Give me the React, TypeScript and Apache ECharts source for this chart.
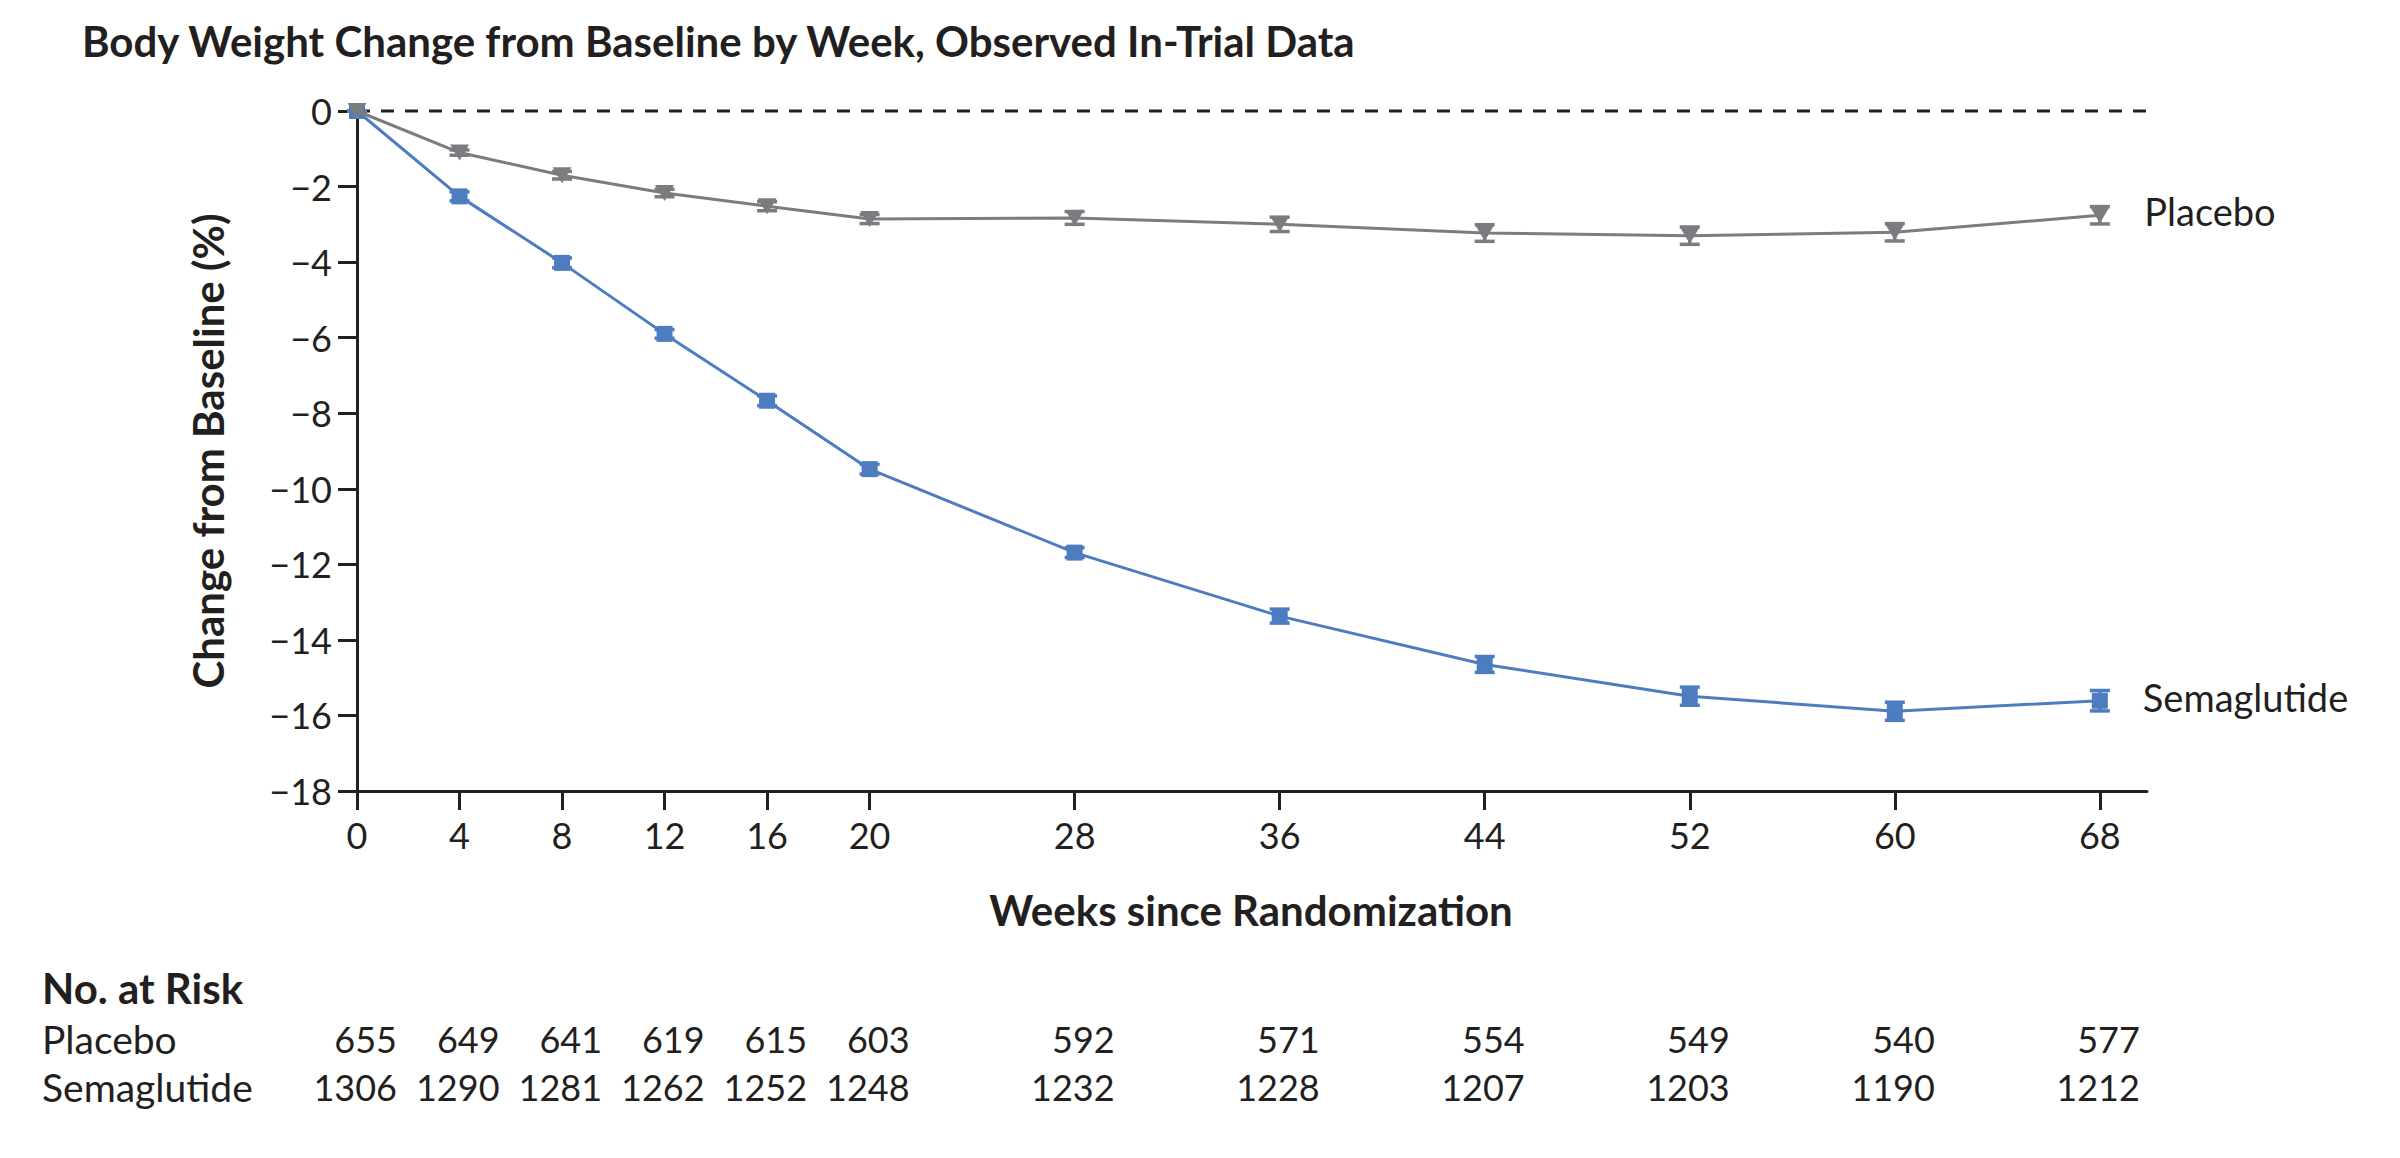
import React, { useEffect, useRef } from "react";
import * as echarts from "echarts";

const weeks = [0, 4, 8, 12, 16, 20, 28, 36, 44, 52, 60, 68];
const placebo = [0, -1.1, -1.7, -2.17, -2.52, -2.86, -2.83, -3.0, -3.23, -3.3, -3.21, -2.76];
const placeboErr = [0, 0.07, 0.1, 0.1, 0.12, 0.12, 0.17, 0.19, 0.22, 0.23, 0.23, 0.23];
const semaglutide = [0, -2.26, -4.02, -5.9, -7.67, -9.48, -11.69, -13.37, -14.65, -15.49, -15.89, -15.61];
const semaglutideErr = [0, 0.12, 0.13, 0.115, 0.13, 0.13, 0.13, 0.185, 0.21, 0.24, 0.24, 0.27];
const riskPlacebo = [655, 649, 641, 619, 615, 603, 592, 571, 554, 549, 540, 577];
const riskSemaglutide = [1306, 1290, 1281, 1262, 1252, 1248, 1232, 1228, 1207, 1203, 1190, 1212];
const yTicks = { min: -18, max: 0, interval: 2 };
const baselineSpan = [0, 70.4];

const BLUE = "#4d7cc1";
const GRAY = "#7a7c7f";
const INK = "#231f20";
const FONT = "Lato";

function errorSeries(name: string, vals: number[], errs: number[], color: string) {
  return {
    name: name + " CI",
    type: "custom",
    z: 2,
    silent: true,
    data: weeks.map((w, i) => [w, vals[i] - errs[i], vals[i] + errs[i]]),
    renderItem: (params: any, api: any) => {
      const x = api.value(0);
      const lo = api.coord([x, api.value(1)]);
      const hi = api.coord([x, api.value(2)]);
      const hw = 10;
      const style = { stroke: color, lineWidth: 3.5 };
      return {
        type: "group",
        children: [
          { type: "line", shape: { x1: lo[0], y1: lo[1], x2: hi[0], y2: hi[1] }, style },
          { type: "line", shape: { x1: lo[0] - hw, y1: lo[1], x2: lo[0] + hw, y2: lo[1] }, style },
          { type: "line", shape: { x1: hi[0] - hw, y1: hi[1], x2: hi[0] + hw, y2: hi[1] }, style },
        ],
      };
    },
  };
}

function lineData(vals: number[], label: string) {
  return weeks.map((w, i) => {
    if (i === weeks.length - 1) {
      return {
        value: [w, vals[i]],
        label: {
          show: true,
          position: "right",
          distance: 35,
          offset: [0, -4],
          formatter: label,
          fontFamily: FONT,
          fontSize: 38,
          color: INK,
        },
      };
    }
    return [w, vals[i]];
  });
}

export default function App() {
  const ref = useRef<HTMLDivElement>(null);
  useEffect(() => {
    if (!ref.current) return;
    const chart = echarts.init(ref.current, null, { renderer: "svg", width: 2400, height: 1158 });
    const axisLineStyle = { color: INK, width: 3 };
    const fmt = (v: number) => (v < 0 ? "\u2212" + Math.abs(v) : String(v));
    const option: any = {
      animation: false,
      backgroundColor: "#ffffff",
      textStyle: { fontFamily: FONT },
      grid: [
        { left: 357, top: 111, width: 1790, height: 680 },
        { left: 357, top: 1015, width: 1790, height: 96 },
      ],
      xAxis: [
        {
          type: "value",
          gridIndex: 0,
          min: 0,
          max: 69.84,
          axisLine: { show: true, onZero: false, lineStyle: axisLineStyle },
          axisTick: { show: true, length: 19, lineStyle: axisLineStyle, customValues: weeks },
          axisLabel: {
            show: true,
            customValues: weeks,
            fontFamily: FONT,
            fontSize: 36,
            color: INK,
            margin: 26,
          },
          splitLine: { show: false },
        },
        {
          type: "value",
          gridIndex: 1,
          min: 0,
          max: 69.84,
          show: false,
        },
      ],
      yAxis: [
        {
          type: "value",
          gridIndex: 0,
          min: yTicks.min,
          max: yTicks.max,
          interval: yTicks.interval,
          axisLine: { show: true, onZero: false, lineStyle: axisLineStyle },
          axisTick: { show: true, length: 19, lineStyle: axisLineStyle },
          axisLabel: {
            fontFamily: FONT,
            fontSize: 36,
            color: INK,
            margin: 25,
            formatter: fmt,
          },
          splitLine: { show: false },
        },
        {
          type: "category",
          gridIndex: 1,
          data: ["Placebo", "Semaglutide"],
          inverse: true,
          show: false,
        },
      ],
      series: [
        {
          name: "Baseline",
          type: "line",
          z: 1,
          silent: true,
          clip: false,
          symbol: "none",
          data: baselineSpan.map((w) => [w, 0]),
          lineStyle: { color: INK, width: 3, type: [13, 11] },
        },
        errorSeries("Semaglutide", semaglutide, semaglutideErr, BLUE),
        errorSeries("Placebo", placebo, placeboErr, GRAY),
        {
          name: "Semaglutide",
          type: "line",
          z: 3,
          data: lineData(semaglutide, "Semaglutide"),
          symbol: "rect",
          symbolSize: 16,
          itemStyle: { color: BLUE },
          lineStyle: { color: BLUE, width: 3 },
        },
        {
          name: "Placebo",
          type: "line",
          z: 4,
          data: lineData(placebo, "Placebo"),
          symbol: "triangle",
          symbolRotate: 180,
          symbolSize: [19, 16],
          itemStyle: { color: GRAY },
          lineStyle: { color: GRAY, width: 3 },
        },
        {
          name: "Risk",
          type: "scatter",
          xAxisIndex: 1,
          yAxisIndex: 1,
          symbolSize: 1,
          itemStyle: { color: "rgba(0,0,0,0)" },
          silent: true,
          data: [
            ...weeks.map((w, i) => [w, "Placebo", riskPlacebo[i]]),
            ...weeks.map((w, i) => [w, "Semaglutide", riskSemaglutide[i]]),
          ],
          label: {
            show: true,
            position: "inside",
            align: "right",
            verticalAlign: "middle",
            offset: [40, 0],
            fontFamily: FONT,
            fontSize: 36,
            color: INK,
            opacity: 1,
            textBorderWidth: 0,
            formatter: (p: any) => String(p.value[2]),
          },
        },
      ],
      graphic: [
        {
          type: "text",
          left: 82,
          top: 20,
          style: {
            text: "Body Weight Change from Baseline by Week, Observed In-Trial Data",
            fontFamily: FONT,
            fontWeight: "bold",
            fontSize: 42,
            fill: INK,
          },
        },
        {
          type: "text",
          x: 208,
          y: 451,
          rotation: Math.PI / 2,
          style: {
            text: "Change from Baseline (%)",
            fontFamily: FONT,
            fontWeight: "bold",
            fontSize: 42,
            fill: INK,
            align: "center",
            verticalAlign: "middle",
          },
        },
        {
          type: "text",
          x: 1251,
          y: 910,
          style: {
            text: "Weeks since Randomization",
            fontFamily: FONT,
            fontWeight: "bold",
            fontSize: 42,
            fill: INK,
            align: "center",
            verticalAlign: "middle",
          },
        },
        {
          type: "text",
          x: 42,
          y: 988,
          style: {
            text: "No. at Risk",
            fontFamily: FONT,
            fontWeight: "bold",
            fontSize: 42,
            fill: INK,
            align: "left",
            verticalAlign: "middle",
          },
        },
        {
          type: "text",
          x: 42,
          y: 1039,
          style: {
            text: "Placebo",
            fontFamily: FONT,
            fontSize: 39,
            fill: INK,
            align: "left",
            verticalAlign: "middle",
          },
        },
        {
          type: "text",
          x: 42,
          y: 1087,
          style: {
            text: "Semaglutide",
            fontFamily: FONT,
            fontSize: 39,
            fill: INK,
            align: "left",
            verticalAlign: "middle",
          },
        },
      ],
    };
    chart.setOption(option);
    return () => chart.dispose();
  }, []);
  return (
    <div
      ref={ref}
      style={{ position: "absolute", left: 0, top: 0, width: 2400, height: 1158, background: "#fff" }}
    />
  );
}
